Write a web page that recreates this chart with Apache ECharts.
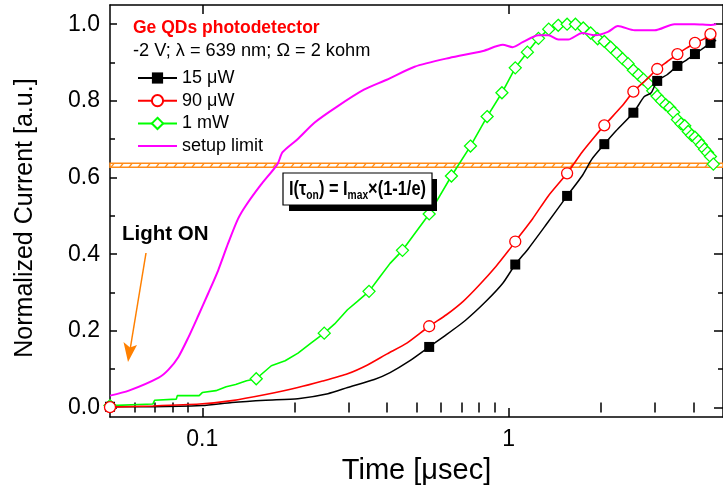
<!DOCTYPE html>
<html><head><meta charset="utf-8">
<script src="https://cdn.jsdelivr.net/npm/echarts@6/dist/echarts.min.js"></script>
<style>html,body{margin:0;padding:0;background:#fff}#c{width:723px;height:490px}</style>
</head><body><div id="c"></div>
<script>
const FONT = '"Liberation Sans", Arial, sans-serif';
const seriesNames = ['15 μW', '90 μW', '1 mW', 'setup limit'];
const xTickLabels = [0.1, 1];
const xMinorTicks = [0.06, 0.07, 0.08, 0.09, 0.2, 0.3, 0.4, 0.5, 0.6, 0.7, 0.8, 0.9, 2, 3, 4];
const yTickLabels = [0, 0.2, 0.4, 0.6, 0.8, 1.0];
const yMinorTicks = [0.1, 0.3, 0.5, 0.7, 0.9];

// 15 µW (black) line and square markers
const t15 = [0.05, 0.069, 0.1, 0.125, 0.161, 0.205, 0.257, 0.298, 0.364, 0.41, 0.476, 0.626, 0.726, 0.843, 0.956, 1.16, 1.316, 1.734, 1.867, 2.24, 2.768, 2.916, 3.285, 3.81, 4.324, 4.75];
const v15 = [0.002, 0.002, 0.005, 0.013, 0.019, 0.023, 0.036, 0.052, 0.073, 0.091, 0.122, 0.19, 0.229, 0.277, 0.324, 0.415, 0.474, 0.604, 0.648, 0.722, 0.811, 0.821, 0.868, 0.907, 0.938, 0.958];
const m15t = [0.05, 0.55, 1.05, 1.55, 2.05, 2.55, 3.05, 3.55, 4.05, 4.55];
const m15v = [0.002, 0.158, 0.373, 0.552, 0.687, 0.769, 0.852, 0.891, 0.922, 0.951];

// 90 µW (red) line and circle markers
const t90 = [0.069, 0.098, 0.125, 0.161, 0.205, 0.247, 0.298, 0.346, 0.401, 0.465, 0.626, 0.71, 0.8, 0.908, 1.0, 1.195, 1.346, 1.734, 1.909, 2.333, 2.81, 3.285, 3.81, 4.324, 4.75];
const v90 = [0.004, 0.009, 0.018, 0.034, 0.052, 0.069, 0.088, 0.111, 0.14, 0.168, 0.242, 0.277, 0.319, 0.368, 0.41, 0.492, 0.552, 0.666, 0.707, 0.785, 0.855, 0.902, 0.938, 0.961, 0.978];
const m90t = [0.05, 0.55, 1.05, 1.55, 2.05, 2.55, 3.05, 3.55, 4.05, 4.55];
const m90v = [0.001, 0.212, 0.433, 0.611, 0.736, 0.824, 0.883, 0.922, 0.951, 0.974];

// 1 mW (green) line and diamond markers
const t1 = [0.069, 0.0699, 0.0823, 0.0829, 0.0977, 0.1, 0.1108, 0.1197, 0.1285, 0.1395, 0.168, 0.1864, 0.2053, 0.2262, 0.2703, 0.2977, 0.3208, 0.3805, 0.41];
const v1 = [0.009, 0.019, 0.022, 0.031, 0.031, 0.039, 0.044, 0.054, 0.06, 0.07, 0.109, 0.122, 0.142, 0.168, 0.218, 0.255, 0.277, 0.342, 0.376];
const m1t = [0.05, 0.15, 0.25, 0.35, 0.45, 0.55, 0.65, 0.75, 0.85, 0.95, 1.05, 1.15, 1.25, 1.35, 1.45, 1.55, 1.65, 1.75, 1.85, 1.95, 2.05, 2.15, 2.25, 2.35, 2.45, 2.55, 2.65, 2.75, 2.85, 2.95, 3.05, 3.15, 3.25, 3.35, 3.45, 3.55, 3.65, 3.75, 3.85, 3.95, 4.05, 4.15, 4.25, 4.35, 4.45, 4.55, 4.65];
const m1v = [0.005, 0.075, 0.194, 0.303, 0.41, 0.505, 0.604, 0.682, 0.759, 0.821, 0.886, 0.927, 0.963, 0.987, 0.997, 1.0, 1.0, 0.99, 0.977, 0.962, 0.955, 0.94, 0.925, 0.91, 0.897, 0.88, 0.868, 0.856, 0.845, 0.826, 0.812, 0.8, 0.79, 0.782, 0.77, 0.751, 0.74, 0.735, 0.72, 0.71, 0.705, 0.695, 0.685, 0.674, 0.665, 0.655, 0.635];

// setup limit (magenta)
const tS = [0.05, 0.0576, 0.0721, 0.0776, 0.0836, 0.0901, 0.0971, 0.1046, 0.1127, 0.1214, 0.1308, 0.1388, 0.155, 0.176, 0.1828, 0.2046, 0.2322, 0.2754, 0.3368, 0.3999, 0.4928, 0.6396, 0.824, 0.956, 1.03, 1.11, 1.25, 1.347, 1.451, 1.564, 1.736, 1.912, 2.107, 2.27, 2.576, 2.99, 3.472, 4.03, 4.571, 4.75];
const vS = [0.031, 0.044, 0.078, 0.099, 0.132, 0.183, 0.24, 0.298, 0.358, 0.428, 0.492, 0.527, 0.58, 0.635, 0.666, 0.70, 0.743, 0.785, 0.829, 0.855, 0.889, 0.912, 0.93, 0.946, 0.94, 0.953, 0.971, 0.971, 0.96, 0.96, 0.977, 0.971, 0.98, 0.995, 0.984, 0.984, 1.0, 1.0, 0.998, 1.0];

// 1 - 1/e band
const bandLow = 0.627, bandHigh = 0.637;

function build(lt, lv, mt, mv, sym) {
  const pts = [];
  lt.forEach((t, i) => pts.push({ value: [t, lv[i]], symbol: 'none' }));
  mt.forEach((t, i) => pts.push({ value: [t, mv[i]], symbol: sym }));
  pts.sort((a, b) => a.value[0] - b.value[0]);
  return pts;
}

// hatch pattern
const pc = document.createElement('canvas');
pc.width = 9; pc.height = 4;
const pctx = pc.getContext('2d');
pctx.fillStyle = '#fff'; pctx.fillRect(0, 0, 9, 4);
pctx.strokeStyle = '#ff8c1a'; pctx.lineWidth = 1.3;
pctx.beginPath(); pctx.moveTo(2, 4.5); pctx.lineTo(6, -0.5); pctx.stroke();

const chart = echarts.init(document.getElementById('c'), null, { renderer: 'canvas' });
const axisCol = '#000';
const xBase = { type: 'log', logBase: 10, min: 0.05, max: 5, gridIndex: 0, splitLine: { show: false }, offset: 0 };
const yBase = { type: 'value', min: -0.025, max: 1.05, gridIndex: 0, splitLine: { show: false }, offset: 0 };
const tickStyle = { color: axisCol, width: 1.5 };

const option = {
  animation: false,
  backgroundColor: '#fff',
  grid: { left: 110, top: 5, width: 619.6, height: 414.5, containLabel: false },
  xAxis: [
    Object.assign({}, xBase, {
      position: 'bottom',
      axisLine: { show: true, onZero: false, lineStyle: { color: axisCol, width: 1.5 } },
      axisTick: { show: true, inside: true, length: 9, lineStyle: tickStyle, customValues: xTickLabels },
      axisLabel: { show: true, customValues: xTickLabels, formatter: v => String(+v.toPrecision(3)), fontSize: 23, color: '#000', fontFamily: FONT, margin: 11 },
      name: 'Time [μsec]', nameLocation: 'middle', nameGap: 31,
      nameTextStyle: { fontSize: 29, color: '#000', fontFamily: FONT }
    }),
    Object.assign({}, xBase, {
      position: 'bottom',
      axisLine: { show: false },
      axisTick: { show: true, inside: true, length: 5, lineStyle: tickStyle, customValues: xMinorTicks },
      axisLabel: { show: false }
    }),
    Object.assign({}, xBase, {
      position: 'top',
      axisLine: { show: true, onZero: false, lineStyle: { color: axisCol, width: 1.5 } },
      axisTick: { show: true, inside: true, length: 9, lineStyle: tickStyle, customValues: xTickLabels },
      axisLabel: { show: false }
    }),
    Object.assign({}, xBase, {
      position: 'top',
      axisLine: { show: false },
      axisTick: { show: true, inside: true, length: 5, lineStyle: tickStyle, customValues: xMinorTicks },
      axisLabel: { show: false }
    })
  ],
  yAxis: [
    Object.assign({}, yBase, {
      position: 'left',
      axisLine: { show: true, onZero: false, lineStyle: { color: axisCol, width: 1.5 } },
      axisTick: { show: true, inside: true, length: 7, lineStyle: tickStyle, customValues: yTickLabels },
      axisLabel: { show: true, customValues: yTickLabels, formatter: v => (+v).toFixed(1), fontSize: 23, color: '#000', fontFamily: FONT, margin: 10 },
      name: 'Normalized Current [a.u.]', nameLocation: 'middle', nameGap: 72, nameRotate: 90,
      nameTextStyle: { fontSize: 25, color: '#000', fontFamily: FONT, padding: [0, 14, 0, 0] }
    }),
    Object.assign({}, yBase, {
      position: 'left',
      axisLine: { show: false },
      axisTick: { show: true, inside: true, length: 5, lineStyle: tickStyle, customValues: yMinorTicks },
      axisLabel: { show: false }
    }),
    Object.assign({}, yBase, {
      position: 'right',
      axisLine: { show: true, onZero: false, lineStyle: { color: axisCol, width: 1.5 } },
      axisTick: { show: true, inside: true, length: 9, lineStyle: tickStyle, customValues: yTickLabels },
      axisLabel: { show: false }
    }),
    Object.assign({}, yBase, {
      position: 'right',
      axisLine: { show: false },
      axisTick: { show: true, inside: true, length: 5, lineStyle: tickStyle, customValues: yMinorTicks },
      axisLabel: { show: false }
    })
  ],
  legend: seriesNames.map((n, i) => {
    const last = i === seriesNames.length - 1;
    return {
      data: last ? [{ name: n, itemStyle: { opacity: 0 } }] : [n],
      left: 132, top: 64 + i * 22.7, orient: 'vertical',
      itemWidth: 39, itemHeight: 14, itemGap: 0, selectedMode: false,
      textStyle: { fontSize: 18, color: '#000', fontFamily: FONT }
    };
  }),
  series: [
    {
      name: seriesNames[2], type: 'line', xAxisIndex: 0, yAxisIndex: 0,
      data: build(t1, v1, m1t, m1v, 'diamond'),
      symbol: 'diamond', symbolSize: 12, showAllSymbol: true, showSymbol: true,
      lineStyle: { color: '#00ff00', width: 1.6 },
      itemStyle: { color: '#fff', borderColor: '#00ff00', borderWidth: 1.3 },
      emphasis: { disabled: true }, silent: true, z: 2,
      markArea: {
        silent: true,
        itemStyle: { color: { image: pc, repeat: 'repeat' }, borderColor: '#ff8c1a', borderWidth: 1.5 },
        data: [[{ yAxis: bandLow }, { yAxis: bandHigh }]]
      }
    },
    {
      name: seriesNames[0], type: 'line', xAxisIndex: 0, yAxisIndex: 0,
      data: build(t15, v15, m15t, m15v, 'rect'),
      symbol: 'rect', symbolSize: 10, showAllSymbol: true, showSymbol: true,
      smooth: 0.2,
      lineStyle: { color: '#000', width: 1.5 },
      itemStyle: { color: '#000', borderColor: '#000', borderWidth: 0 },
      emphasis: { disabled: true }, silent: true, z: 3
    },
    {
      name: seriesNames[1], type: 'line', xAxisIndex: 0, yAxisIndex: 0,
      data: build(t90, v90, m90t, m90v, 'circle'),
      symbol: 'circle', symbolSize: 11, showAllSymbol: true, showSymbol: true,
      smooth: 0.2,
      lineStyle: { color: '#ff0000', width: 1.6 },
      itemStyle: { color: '#fff', borderColor: '#ff0000', borderWidth: 1.3 },
      emphasis: { disabled: true }, silent: true, z: 4
    },
    {
      name: seriesNames[3], type: 'line', xAxisIndex: 0, yAxisIndex: 0,
      data: tS.map((t, i) => [t, vS[i]]),
      symbol: 'none', showSymbol: false, smooth: 0.25,
      lineStyle: { color: '#ff00ff', width: 2 },
      itemStyle: { color: '#ff00ff' },
      emphasis: { disabled: true }, silent: true, z: 5
    }
  ],
  graphic: [
    { type: 'text', left: 133, top: 19, style: { text: 'Ge QDs photodetector', fontSize: 17.5, fontWeight: 'bold', fill: '#ff0000', fontFamily: FONT } },
    { type: 'text', left: 133, top: 42, style: { text: '-2 V; λ = 639 nm; Ω = 2 kohm', fontSize: 18.2, fill: '#000', fontFamily: FONT } },
    { type: 'text', left: 122, top: 224, style: { text: 'Light ON', fontSize: 20.5, fontWeight: 'bold', fill: '#000', fontFamily: FONT } },
    { type: 'line', shape: { x1: 146, y1: 253, x2: 130, y2: 350 }, style: { stroke: '#ff8000', lineWidth: 1.5 } },
    { type: 'polygon', shape: { points: [[128, 362], [123.5, 342], [130, 347.5], [137, 345]] }, style: { fill: '#ff8000' } },
    { type: 'rect', shape: { x: 289, y: 179, width: 148, height: 32 }, style: { fill: '#000' }, z: 100 },
    { type: 'rect', shape: { x: 283, y: 173, width: 149, height: 32 }, style: { fill: '#fff', stroke: '#000', lineWidth: 1.2 }, z: 101 },
    {
      type: 'text', x: 357.5, y: 189, scaleX: 0.82, z: 102,
      style: {
        text: '{b|I(τ}{s|on}{b|) = I}{s|max}{b|×(1-1/e)}',
        align: 'center', verticalAlign: 'middle', fontFamily: FONT,
        rich: {
          b: { fontSize: 20, fontWeight: 'bold', fill: '#000', fontFamily: FONT, lineHeight: 22 },
          s: { fontSize: 12.5, fontWeight: 'bold', fill: '#000', fontFamily: FONT, padding: [14, 0, 0, 0], lineHeight: 22 }
        }
      }
    }
  ]
};
chart.setOption(option);
</script></body></html>
